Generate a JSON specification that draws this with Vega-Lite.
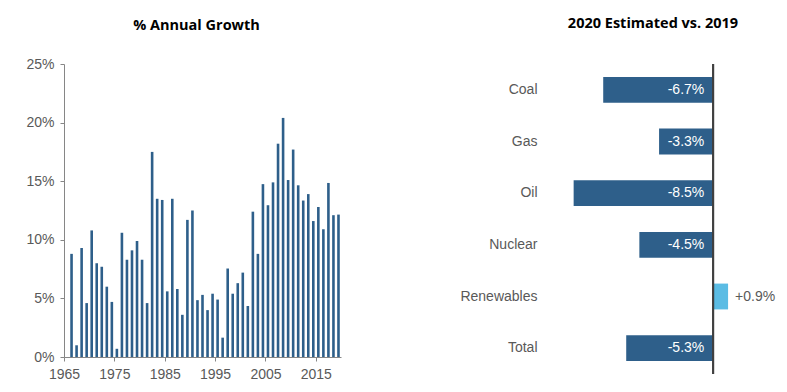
{
  "$schema": "https://vega.github.io/schema/vega-lite/v6.json",
  "padding": {"left": 25, "top": 15, "right": 5, "bottom": 5},
  "spacing": 118,
  "background": "white",
  "config": {
    "view": {"stroke": null},
    "font": "Liberation Sans",
    "axis": {"labelFont": "Liberation Sans", "labelFontSize": 14, "labelColor": "#595959", "domainColor": "#868686", "tickColor": "#868686", "grid": false, "title": null},
    "title": {"font": "Open Sans", "fontWeight": "bold", "fontSize": 14.5, "color": "#000000", "anchor": "middle", "frame": "group"}
  },
  "hconcat": [
    {
      "title": {"text": "% Annual Growth", "dx": -6, "offset": 24},
      "width": 277,
      "height": 293,
      "data": {"values": [
        {"year": "1966", "growth": 8.8}, {"year": "1967", "growth": 1.0}, {"year": "1968", "growth": 9.3},
        {"year": "1969", "growth": 4.6}, {"year": "1970", "growth": 10.8}, {"year": "1971", "growth": 8.0},
        {"year": "1972", "growth": 7.7}, {"year": "1973", "growth": 6.0}, {"year": "1974", "growth": 4.7},
        {"year": "1975", "growth": 0.7}, {"year": "1976", "growth": 10.6}, {"year": "1977", "growth": 8.3},
        {"year": "1978", "growth": 9.1}, {"year": "1979", "growth": 9.9}, {"year": "1980", "growth": 8.3},
        {"year": "1981", "growth": 4.6}, {"year": "1982", "growth": 17.5}, {"year": "1983", "growth": 13.5},
        {"year": "1984", "growth": 13.4}, {"year": "1985", "growth": 5.6}, {"year": "1986", "growth": 13.5},
        {"year": "1987", "growth": 5.8}, {"year": "1988", "growth": 3.6}, {"year": "1989", "growth": 11.7},
        {"year": "1990", "growth": 12.5}, {"year": "1991", "growth": 4.85}, {"year": "1992", "growth": 5.3},
        {"year": "1993", "growth": 4.0}, {"year": "1994", "growth": 5.4}, {"year": "1995", "growth": 4.9},
        {"year": "1996", "growth": 1.65}, {"year": "1997", "growth": 7.55}, {"year": "1998", "growth": 5.4},
        {"year": "1999", "growth": 6.3}, {"year": "2000", "growth": 7.2}, {"year": "2001", "growth": 4.35},
        {"year": "2002", "growth": 12.4}, {"year": "2003", "growth": 8.8}, {"year": "2004", "growth": 14.75},
        {"year": "2005", "growth": 12.95}, {"year": "2006", "growth": 14.9}, {"year": "2007", "growth": 18.2},
        {"year": "2008", "growth": 20.4}, {"year": "2009", "growth": 15.1}, {"year": "2010", "growth": 17.7},
        {"year": "2011", "growth": 14.65}, {"year": "2012", "growth": 13.35}, {"year": "2013", "growth": 13.9},
        {"year": "2014", "growth": 11.6}, {"year": "2015", "growth": 12.8}, {"year": "2016", "growth": 10.9},
        {"year": "2017", "growth": 14.85}, {"year": "2018", "growth": 12.1}, {"year": "2019", "growth": 12.15}
      ]},
      "mark": {"type": "bar", "color": "#2E5F8A", "width": 2.6},
      "encoding": {
        "x": {
          "field": "year", "type": "temporal", "timeUnit": "utcyear", "bandPosition": 0.5,
          "scale": {"domain": [{"year": 1965, "utc": true}, {"year": 2020, "utc": true}]},
          "axis": {
            "values": [{"year": 1965, "utc": true}, {"year": 1975, "utc": true}, {"year": 1985, "utc": true}, {"year": 1995, "utc": true}, {"year": 2005, "utc": true}, {"year": 2015, "utc": true}],
            "format": "%Y", "tickSize": 4, "labelPadding": 6, "labelAngle": 0, "labelFlush": false, "labelOverlap": false
          }
        },
        "y": {
          "field": "growth", "type": "quantitative",
          "scale": {"domain": [0, 25], "nice": false},
          "axis": {"values": [0, 5, 10, 15, 20, 25], "labelExpr": "datum.value + '%'", "tickSize": 4, "labelPadding": 6}
        }
      }
    },
    {
      "title": {"text": "2020 Estimated vs. 2019", "dx": -11, "offset": 32},
      "width": 230,
      "height": 310,
      "data": {"values": [
        {"source": "Coal", "value": -6.7, "label": "-6.7%"},
        {"source": "Gas", "value": -3.3, "label": "-3.3%"},
        {"source": "Oil", "value": -8.5, "label": "-8.5%"},
        {"source": "Nuclear", "value": -4.5, "label": "-4.5%"},
        {"source": "Renewables", "value": 0.9, "label": "+0.9%"},
        {"source": "Total", "value": -5.3, "label": "-5.3%"}
      ]},
      "encoding": {
        "y": {
          "field": "source", "type": "nominal", "sort": null,
          "scale": {"paddingInner": 0.5, "paddingOuter": 0.25},
          "axis": {"domain": false, "ticks": false, "labelPadding": 12}
        }
      },
      "layer": [
        {
          "mark": {"type": "bar"},
          "encoding": {
            "x": {"field": "value", "type": "quantitative", "scale": {"domain": [-10, 4], "nice": false}, "axis": null},
            "color": {"condition": {"test": "datum.value > 0", "value": "#5BBCE4"}, "value": "#2E5F8A"}
          }
        },
        {
          "mark": {"type": "rule", "color": "#404040", "strokeWidth": 1.5},
          "encoding": {"x": {"datum": 0, "type": "quantitative"}, "y": null}
        },
        {
          "transform": [{"filter": "datum.value < 0"}],
          "mark": {"type": "text", "align": "right", "dx": -9, "color": "white", "fontSize": 14, "font": "Liberation Sans"},
          "encoding": {"x": {"datum": 0, "type": "quantitative"}, "text": {"field": "label"}}
        },
        {
          "transform": [{"filter": "datum.value > 0"}],
          "mark": {"type": "text", "align": "left", "dx": 7, "color": "#595959", "fontSize": 14, "font": "Liberation Sans"},
          "encoding": {"x": {"field": "value", "type": "quantitative"}, "text": {"field": "label"}}
        }
      ]
    }
  ]
}
